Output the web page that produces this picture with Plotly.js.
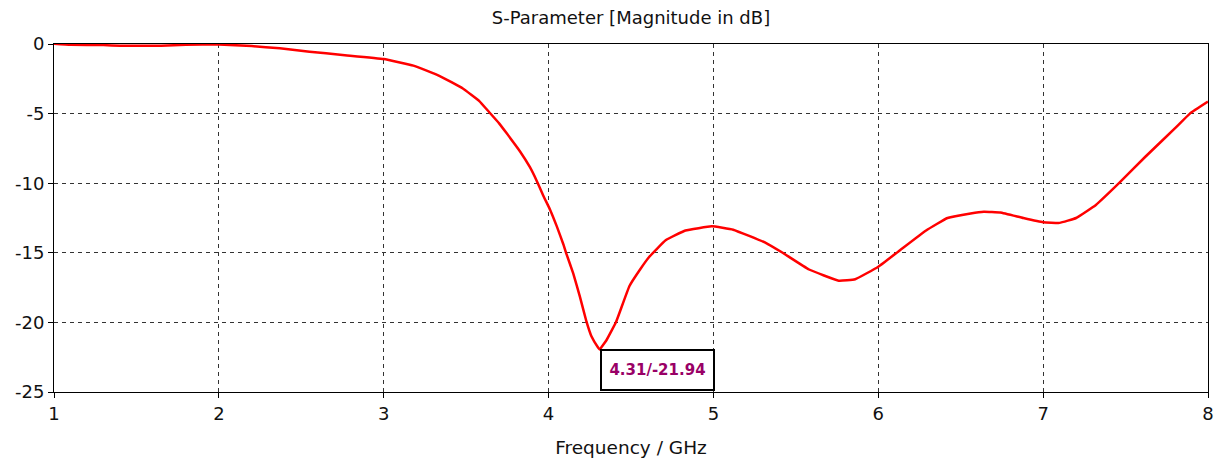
<!DOCTYPE html>
<html>
<head>
<meta charset="utf-8">
<script src="https://cdn.plot.ly/plotly-3.0.1.min.js"></script>
<style>html,body{margin:0;padding:0;background:#fff;}#chart{width:1220px;height:460px;}</style>
</head>
<body>
<div id="chart"></div>
<script>
const freqGHz = [1.0,1.1,1.3,1.4,1.65,1.8,2.0,2.2,2.37,2.55,2.75,3.0,3.18,3.34,3.48,3.58,3.64,3.70,3.745,3.826,3.887,3.927,3.968,4.009,4.05,4.09,4.106,4.15,4.19,4.23,4.26,4.30,4.31,4.35,4.41,4.49,4.555,4.61,4.71,4.83,4.99,5.12,5.32,5.42,5.58,5.76,5.86,6.0,6.13,6.29,6.42,6.56,6.64,6.74,6.88,7.0,7.10,7.20,7.32,7.46,7.62,7.81,7.89,8.0];
const s11dB = [0.02,-0.05,-0.08,-0.13,-0.13,-0.05,-0.03,-0.15,-0.31,-0.55,-0.79,-1.08,-1.55,-2.3,-3.2,-4.1,-4.9,-5.7,-6.4,-7.7,-8.85,-9.8,-10.9,-11.9,-13.1,-14.4,-15.0,-16.5,-18.15,-19.95,-21.0,-21.8,-21.94,-21.3,-19.95,-17.4,-16.2,-15.3,-14.1,-13.4,-13.1,-13.34,-14.3,-15.0,-16.2,-17.0,-16.9,-16.0,-14.83,-13.4,-12.5,-12.17,-12.05,-12.1,-12.5,-12.8,-12.85,-12.5,-11.56,-10.0,-8.1,-5.94,-5.0,-4.14];
const xTicks = [1,2,3,4,5,6,7,8];
const yTicks = [0,-5,-10,-15,-20,-25];
const markerFreq = 4.31;
const markerVal = -21.94;
const titleText = 'S-Parameter [Magnitude in dB]';
const xTitle = 'Frequency / GHz';

const fontFam = 'DejaVu Sans, Verdana, sans-serif';
const trace = {
  x: freqGHz, y: s11dB, type: 'scatter', mode: 'lines',
  line: {color: '#ff0000', width: 2.5, shape: 'spline', smoothing: 0.3},
  hoverinfo: 'x+y'
};
const axisCommon = {
  showline: true, linecolor: '#000', linewidth: 1, mirror: true,
  ticks: 'outside', ticklen: 5, tickcolor: '#000', tickwidth: 1,
  showgrid: true, gridcolor: '#333', gridwidth: 1, griddash: '4px,4px',
  zeroline: false, tickfont: {family: fontFam, size: 18, color: '#111'}
};
const layout = {
  width: 1220, height: 460,
  margin: {l: 54, r: 12, t: 44, b: 68},
  paper_bgcolor: '#fff', plot_bgcolor: '#fff',
  showlegend: false,
  title: {text: titleText, x: 0.5, xref: 'paper', xanchor: 'center', y: 1 - 18/460, yref: 'container', yanchor: 'middle',
          font: {family: fontFam, size: 18, color: '#111'}},
  xaxis: Object.assign({}, axisCommon, {range: [1, 8], tickvals: xTicks, ticktext: xTicks.map(String),
          title: {text: xTitle, font: {family: fontFam, size: 18.5, color: '#111'}, standoff: 18}}),
  yaxis: Object.assign({}, axisCommon, {range: [-25, 0], tickvals: yTicks, ticktext: yTicks.map(String)}),
  annotations: [{
    x: markerFreq, y: markerVal, xref: 'x', yref: 'y',
    xanchor: 'left', yanchor: 'top', showarrow: false,
    text: '<b>' + markerFreq.toFixed(2) + '/' + markerVal.toFixed(2) + '</b>',
    font: {family: fontFam, size: 15, color: '#990066'},
    bgcolor: '#fff', bordercolor: '#000', borderwidth: 2, borderpad: 0,
    width: 111, height: 38
  }]
};
Plotly.newPlot('chart', [trace], layout, {displayModeBar: false, staticPlot: true});
</script>
</body>
</html>
